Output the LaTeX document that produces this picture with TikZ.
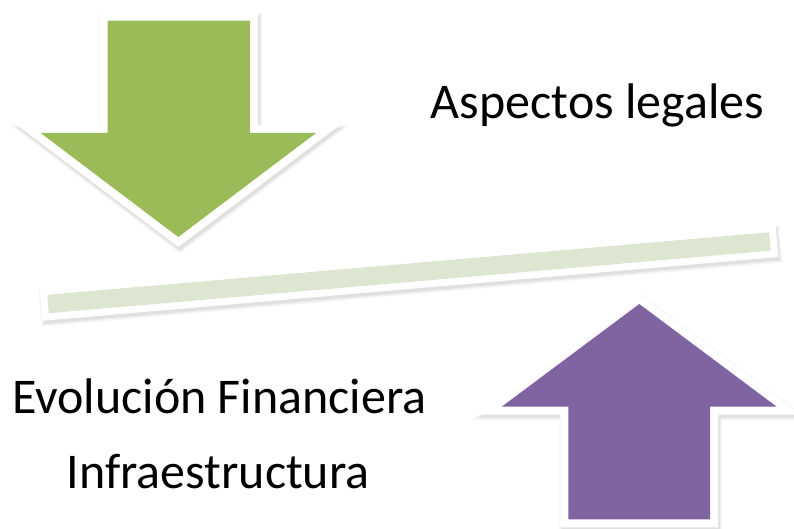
\documentclass[tikz,border=0pt]{standalone}
\usepackage{fontspec}
\setmainfont{Carlito}
\definecolor{arrowgreen}{HTML}{9BBB59}
\definecolor{arrowpurple}{HTML}{8064A2}
\definecolor{barfill}{HTML}{DDE6D0}
\tikzset{
  shadowlayer/.style={draw=black!#1, fill=black!#1, line join=miter},
  framed/.style={draw=white, line width=16pt, line join=miter},
  label/.style={font=\fontsize{50}{56}\selectfont, text=black, anchor=base, inner sep=0pt}
}
\begin{document}
\begin{tikzpicture}[x=1pt,y=-1pt]
\useasboundingbox (0,0) rectangle (794,529);
% ---------- green down arrow ----------
\def\greenarrow{(107.7,20.7) -- (250,20.7) -- (250,133) -- (316,133) -- (178.3,237) -- (40.7,133) -- (107.7,133) -- cycle}
\begin{scope}[shift={(1.5,3)}]
  \path[shadowlayer=4, line width=21pt] \greenarrow;
  \path[shadowlayer=8, line width=18pt] \greenarrow;
  \path[shadowlayer=12, line width=16pt] \greenarrow;
\end{scope}
\path[framed, fill=white] \greenarrow;
\path[fill=arrowgreen] \greenarrow;
% ---------- purple up arrow ----------
\def\purplearrow{(639.3,304) -- (776.7,406.7) -- (710,406.7) -- (710,519.3) -- (568.3,519.3) -- (568.3,406.7) -- (501.7,406.7) -- cycle}
\begin{scope}[shift={(1.5,3)}]
  \path[shadowlayer=4, line width=21pt] \purplearrow;
  \path[shadowlayer=8, line width=18pt] \purplearrow;
  \path[shadowlayer=12, line width=16pt] \purplearrow;
\end{scope}
\path[framed, fill=white] \purplearrow;
\path[fill=arrowpurple] \purplearrow;
% ---------- tilted bar ----------
\def\barshape{(47.26,294.84) -- (769.16,232.32) -- (770.75,250.66) -- (48.85,313.18) -- cycle}
\begin{scope}[shift={(1.5,3)}]
  \path[shadowlayer=4, line width=19pt] \barshape;
  \path[shadowlayer=8, line width=16pt] \barshape;
  \path[shadowlayer=12, line width=14pt] \barshape;
\end{scope}
\path[draw=white, line width=14pt, line join=miter, fill=white] \barshape;
\path[fill=barfill] \barshape;
% ---------- texts ----------
\node[label] (legal) at (597.5,119) {Aspectos legales};
\node[label] (finan) at (219.5,413) {Evolución Financiera};
\node[label] (infra) at (218,488) {Infraestructura};
\end{tikzpicture}
\end{document}
